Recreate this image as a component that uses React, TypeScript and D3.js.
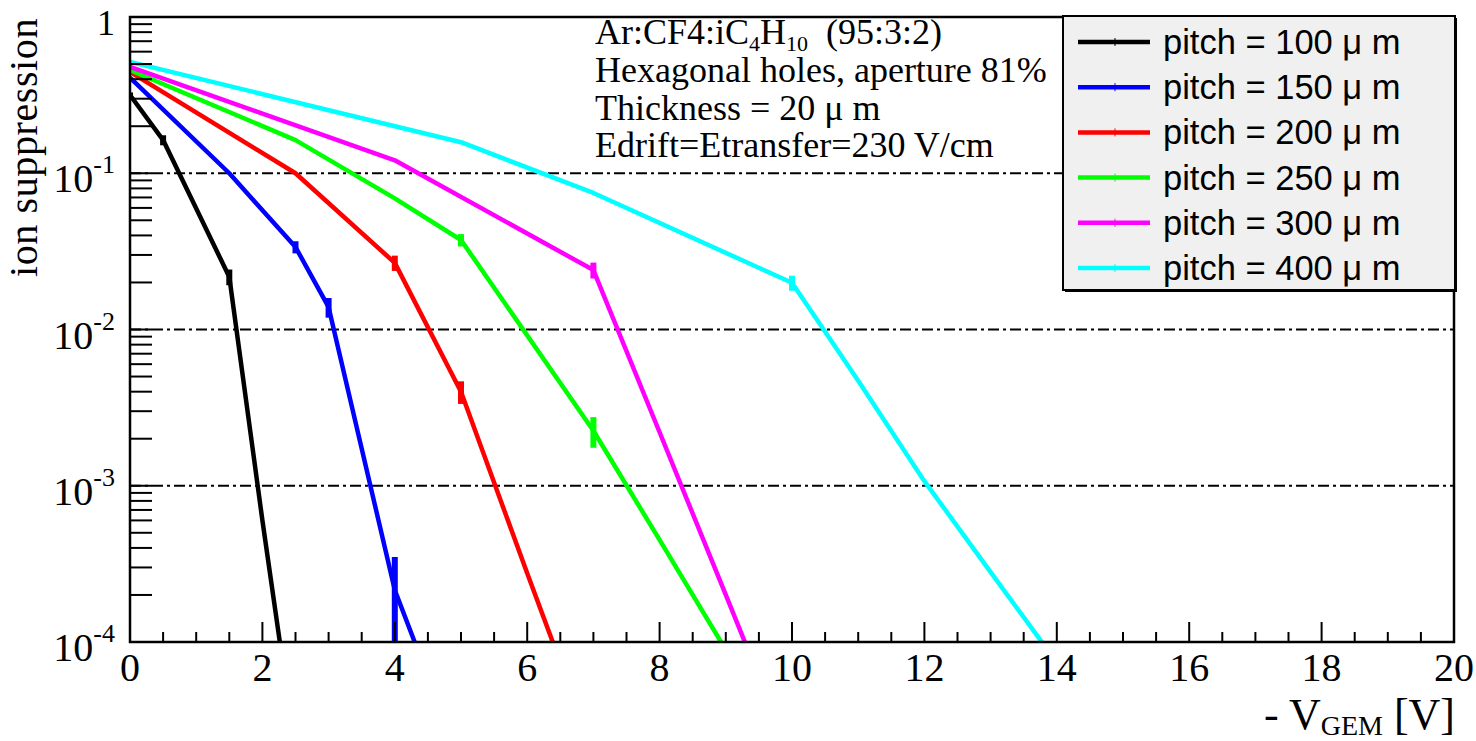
import React from "react";
import * as d3 from "d3";

// ---- data ----
const pitchLabels = ["100", "150", "200", "250", "300", "400"];

const x100 = [0, 0.5, 1.5, 2, 2.5];
const y100 = [0.317, 0.163, 0.0217, 0.0006, 0.00002];
const e100 = [0.012, 0.012, 0.0025, 0, 0];

const x150 = [0, 1.5, 2.5, 3, 4, 4.5];
const y150 = [0.41, 0.1, 0.0337, 0.0139, 0.000215, 0.00006];
const e150 = [0, 0, 0.003, 0.002, 0.000135, 0];

const x200 = [0, 2.5, 4, 5, 6, 7];
const y200 = [0.445, 0.1, 0.0267, 0.004, 0.000275, 0.00002];
const e200 = [0, 0, 0.003, 0.00066, 0, 0];

const x250 = [0, 2.5, 4, 5, 7, 8, 9];
const y250 = [0.458, 0.163, 0.069, 0.0374, 0.00225, 0.00045, 0.000089];
const e250 = [0, 0, 0, 0.0034, 0.0005, 0, 0];

const x300 = [0, 4, 7, 8, 9, 10];
const y300 = [0.48, 0.121, 0.024, 0.0022, 0.0002, 0.000018];
const e300 = [0, 0, 0.0028, 0, 0, 0];

const x400 = [0, 5, 7, 10, 11, 12, 13, 14];
const y400 = [0.515, 0.158, 0.0748, 0.0199, 0.0047, 0.00107, 0.00028, 0.000074];
const e400 = [0, 0, 0, 0.0022, 0, 0, 0, 0];

const xTickLabels = ["0", "2", "4", "6", "8", "10", "12", "14", "16", "18", "20"];
const yDecadeExps = [0, -1, -2, -3, -4];

const annotationLines = [
  "Hexagonal holes, aperture 81%",
  "Thickness = 20 \u03bc m",
  "Edrift=Etransfer=230 V/cm",
];

// ---- styles ----
const colors = ["#000000", "#0000ff", "#ff0000", "#00ff00", "#ff00ff", "#00ffff"];
const SERIF = "'Liberation Serif', 'Times New Roman', serif";
const SANS = "'Liberation Sans', Arial, sans-serif";

const W = 1476;
const H = 741;
const L = 130, R = 1454, T = 17, B = 642;

export default function App() {
  const x = d3.scaleLinear().domain([0, 20]).range([L, R]);
  const y = d3.scaleLog().domain([1e-4, 1]).range([B, T]);

  const series = [
    { xs: x100, ys: y100, es: e100 },
    { xs: x150, ys: y150, es: e150 },
    { xs: x200, ys: y200, es: e200 },
    { xs: x250, ys: y250, es: e250 },
    { xs: x300, ys: y300, es: e300 },
    { xs: x400, ys: y400, es: e400 },
  ];

  const line = d3
    .line<[number, number]>()
    .x((d) => x(d[0]))
    .y((d) => y(d[1]));

  const xMinor = d3.range(0, 20.001, 0.5).filter((v) => Math.abs(v % 2) > 1e-6);
  const xMajor = d3.range(0, 20.001, 2);

  const yTicks: number[] = [];
  for (let e = -4; e <= 0; e++) {
    for (let m = 1; m <= 9; m++) {
      const v = m * Math.pow(10, e);
      if (v <= 1.0000001 && v >= 1e-4) yTicks.push(v);
    }
  }

  const legendX = 1063, legendY = 16, legendW = 392, legendH = 274;
  const legendRowY = (i: number) => 42 + i * 45.2;

  return (
    <svg
      width={W}
      height={H}
      viewBox={`0 0 ${W} ${H}`}
      style={{ position: "absolute", left: 0, top: 0, background: "#fff" }}
    >
      <defs>
        <clipPath id="plotclip">
          <rect x={L} y={T} width={R - L} height={B - T} />
        </clipPath>
      </defs>
      <rect x={0} y={0} width={W} height={H} fill="#fff" />

      {[0.1, 0.01, 0.001].map((v) => (
        <line
          key={"g" + v}
          x1={L}
          x2={R}
          y1={y(v)}
          y2={y(v)}
          stroke="#000"
          strokeWidth={2}
          strokeDasharray="11,4,3,4"
        />
      ))}

      <g clipPath="url(#plotclip)">
        {series.map((s, i) => {
          const pts = s.xs.map((xv, j) => [xv, s.ys[j]] as [number, number]);
          return (
            <g key={"s" + i}>
              <path d={line(pts) || ""} fill="none" stroke={colors[i]} strokeWidth={4.5} strokeLinejoin="round" />
              {s.xs.map((xv, j) =>
                s.es[j] > 0 ? (
                  <line
                    key={"e" + j}
                    x1={x(xv)}
                    x2={x(xv)}
                    y1={y(s.ys[j] + s.es[j])}
                    y2={y(Math.max(s.ys[j] - s.es[j], 1e-6))}
                    stroke={colors[i]}
                    strokeWidth={6}
                  />
                ) : null
              )}
            </g>
          );
        })}
      </g>

      <rect x={L} y={T} width={R - L} height={B - T} fill="none" stroke="#000" strokeWidth={2.5} />

      {xMajor.map((v) => (
        <line key={"xM" + v} x1={x(v)} x2={x(v)} y1={B} y2={B - 20} stroke="#000" strokeWidth={2} />
      ))}
      {xMinor.map((v) => (
        <line key={"xm" + v} x1={x(v)} x2={x(v)} y1={B} y2={B - 10} stroke="#000" strokeWidth={2} />
      ))}
      {xMajor.map((v, i) => (
        <text key={"xl" + v} x={x(v)} y={681} textAnchor="middle" fontFamily={SERIF} fontSize={40} fill="#000">
          {xTickLabels[i]}
        </text>
      ))}

      {yTicks.map((v) => (
        <line key={"yt" + v} x1={L} x2={L + 22} y1={y(v)} y2={y(v)} stroke="#000" strokeWidth={2} />
      ))}
      {yDecadeExps.map((e) => {
        const ty = y(Math.pow(10, e));
        if (e === 0) {
          return (
            <text key="y0" x={115} y={ty + 18} textAnchor="end" fontFamily={SERIF} fontSize={36} fill="#000">
              1
            </text>
          );
        }
        return (
          <text key={"y" + e} x={115} y={ty + 19} textAnchor="end" fontFamily={SERIF} fontSize={40} fill="#000">
            10
            <tspan fontSize={26} dy={-19}>
              {"-" + Math.abs(e)}
            </tspan>
          </text>
        );
      })}

      <text
        transform={`translate(37, 18) rotate(-90)`}
        textAnchor="end"
        fontFamily={SERIF}
        fontSize={40}
        letterSpacing={0.6}
        fill="#000"
      >
        ion suppression
      </text>
      <text x={1455} y={729} textAnchor="end" fontFamily={SERIF} fontSize={44} fill="#000">
        - V
        <tspan fontSize={28} dy={6}>
          GEM
        </tspan>
        <tspan dy={-6}> [V]</tspan>
      </text>

      <text x={595} y={44} fontFamily={SERIF} fontSize={36} fill="#000">
        Ar:CF4:iC
        <tspan fontSize={22} dy={7}>
          4
        </tspan>
        <tspan dy={-7}>H</tspan>
        <tspan fontSize={22} dy={7}>
          10
        </tspan>
        <tspan dy={-7}>{"\u00a0 (95:3:2)"}</tspan>
      </text>
      {annotationLines.map((t, i) => (
        <text key={"an" + i} x={595} y={82 + i * 37.7} fontFamily={SERIF} fontSize={36} fill="#000">
          {t}
        </text>
      ))}

      <rect x={legendX + 2} y={legendY + 2} width={legendW} height={legendH} fill="#000" />
      <rect x={legendX} y={legendY} width={legendW} height={legendH} fill="#f0f0f0" stroke="#000" strokeWidth={2} />
      {pitchLabels.map((p, i) => {
        const ry = legendRowY(i);
        return (
          <g key={"lg" + i}>
            <line x1={1078} x2={1150} y1={ry} y2={ry} stroke={colors[i]} strokeWidth={4.5} />
            <line x1={1115} x2={1115} y1={ry - 4} y2={ry + 4} stroke={colors[i]} strokeWidth={1} />
            <text x={1163} y={ry + 12} fontFamily={SANS} fontSize={34.5} fill="#000">
              {`pitch = ${p} \u03bc m`}
            </text>
          </g>
        );
      })}
    </svg>
  );
}
